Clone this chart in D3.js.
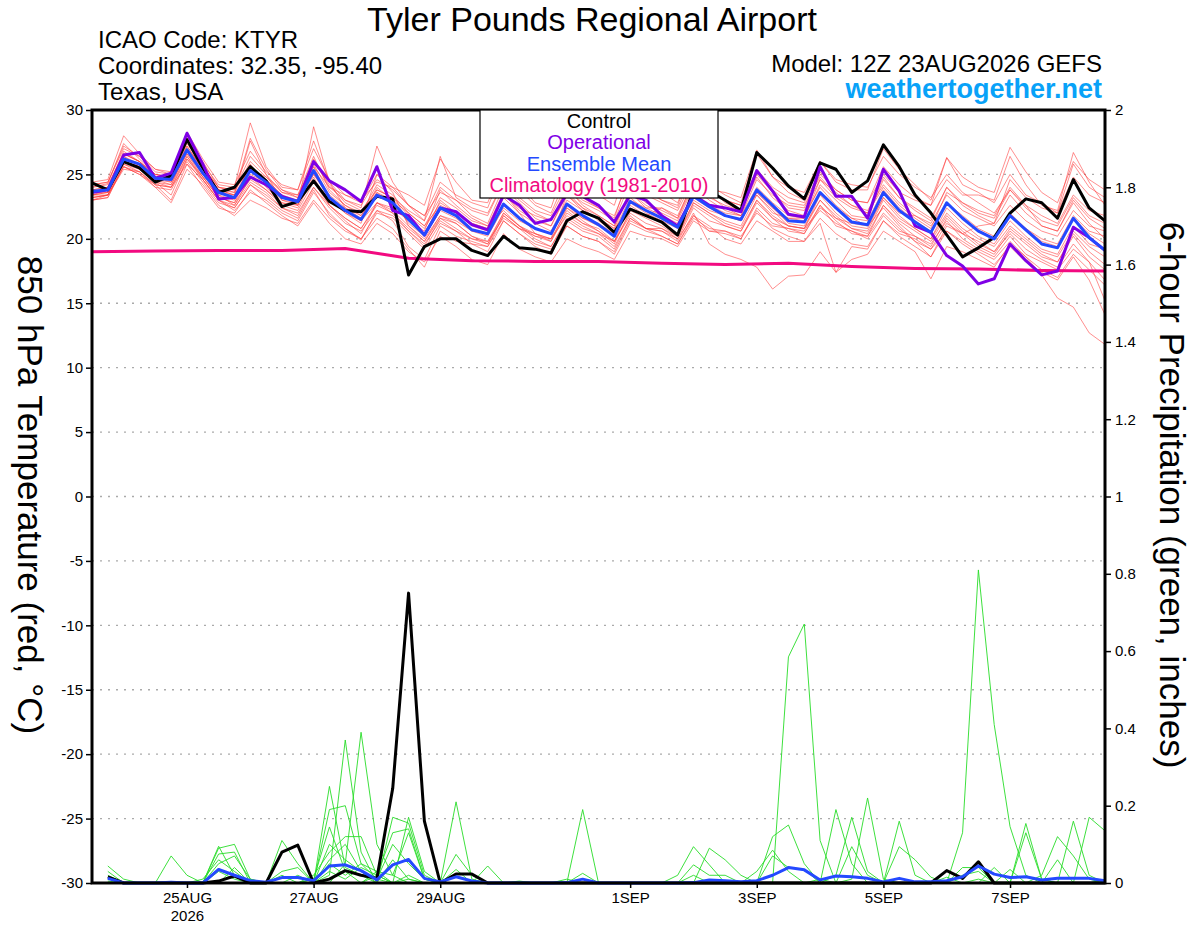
<!DOCTYPE html>
<html>
<head>
<meta charset="utf-8">
<script src="https://cdn.jsdelivr.net/npm/d3@7"></script>
<style>
body { margin: 0; background: #fff; }
svg text { font-family: "Liberation Sans", Arial, sans-serif; }
</style>
</head>
<body>
<svg id="chart" width="1200" height="927"></svg>
<script>
// GEFS run 12Z 23AUG2026, values every 6 hours (65 steps, to 12Z 08SEP)
var runStart = Date.UTC(2026, 7, 23, 12);
var times = d3.range(65).map(function (i) { return new Date(runStart + i * 6 * 3600 * 1000); });

// 850 hPa temperature (C)
var controlT = [
    24.35, 23.8, 26.0, 25.5,  24.4, 24.9, 27.7, 25.5,  23.6, 24.0, 25.6, 24.5,  22.5, 22.9, 24.5, 22.9,
    22.2, 22.1, 23.3, 23.1,  17.2, 19.4, 20.0, 20.0,  19.1, 18.7, 20.2, 19.3,  19.2, 18.9, 21.4, 22.1,
    21.6, 20.5, 22.3, 21.8,  21.3, 20.3, 23.8, 23.7,  23.0, 22.2, 26.7, 25.5,  24.1, 23.1, 25.9, 25.4,
    23.6, 24.5, 27.3, 25.6,  23.4, 22.0, 20.3, 18.6,  19.3, 20.1, 22.0, 23.1,  22.8, 21.6, 24.6, 22.4,
    21.4];
var operT = [
    23.6, 23.8, 26.5, 26.7,  24.7, 25.1, 28.2, 25.8,  23.1, 23.2, 24.8, 24.2,  23.3, 22.9, 26.0, 24.5,
    23.8, 22.9, 25.6, 22.2,  21.8, 20.3, 22.4, 22.1,  21.1, 20.7, 23.4, 22.6,  21.2, 21.5, 23.5, 23.3,
    22.6, 21.3, 23.4, 23.0,  21.8, 21.0, 23.4, 22.6,  22.4, 22.1, 25.3, 23.7,  21.9, 21.7, 25.6, 23.3,
    23.3, 21.6, 25.4, 23.7,  21.0, 20.5, 18.7, 17.9,  16.5, 16.9, 19.6, 18.3,  17.2, 17.5, 20.9, 20.1,
    19.1];
var meanT = [
    23.7, 23.8, 26.2, 25.8,  24.7, 24.6, 26.9, 25.1,  23.6, 23.2, 25.3, 24.4,  23.2, 22.9, 25.3, 23.2,
    22.2, 21.5, 23.4, 22.8,  21.5, 20.3, 22.4, 21.8,  20.7, 20.4, 22.7, 21.6,  20.8, 20.4, 22.7, 21.8,
    21.1, 20.2, 22.9, 22.2,  21.6, 20.9, 23.3, 22.5,  21.8, 21.5, 23.8, 22.6,  21.4, 21.3, 23.6, 22.4,
    21.3, 21.1, 23.6, 22.2,  21.3, 20.5, 22.8, 21.6,  20.6, 20.0, 21.8, 20.7,  19.6, 19.3, 21.6, 20.1,
    19.1];
// climatology, one value per day at 12Z
var climT = [19.0, 19.05, 19.1, 19.1, 19.25, 18.5, 18.3, 18.25, 18.25, 18.1, 18.0, 18.1, 17.85, 17.7, 17.65, 17.55, 17.5];

// ensemble members
var memberT = [
  [24.0, 24.3, 27.4, 26.2,  25.0, 24.8, 27.6, 25.8,  24.2, 24.0, 29.0, 25.6,  24.0, 23.8, 27.0, 24.6,
   23.4, 22.8, 25.0, 24.0,  22.6, 21.8, 24.4, 23.4,  22.8, 22.4, 25.6, 23.8,  22.6, 22.0, 24.8, 23.2,
   22.4, 21.6, 25.2, 24.0,  23.0, 22.6, 25.8, 24.2,  23.4, 22.8, 26.6, 24.8,  23.6, 23.0, 26.0, 24.4,
   23.8, 23.8, 27.0, 25.4,  24.2, 23.0, 26.3, 24.2,  23.6, 22.8, 25.0, 23.4,  22.8, 22.0, 25.8, 24.0, 23.2],
  [23.2, 23.4, 25.4, 25.2,  24.2, 23.0, 25.8, 24.6,  23.0, 22.2, 23.6, 23.0,  22.0, 21.4, 23.6, 22.0,
   20.8, 20.0, 22.0, 21.6,  20.4, 19.2, 21.2, 20.6,  19.6, 19.0, 21.4, 20.4,  19.4, 18.8, 21.0, 20.2,
   19.8, 19.0, 21.4, 20.8,  20.2, 19.6, 21.8, 21.0,  20.0, 19.6, 21.4, 20.6,  19.8, 19.8, 21.6, 20.4,
   19.6, 19.4, 21.4, 20.2,  19.4, 18.6, 20.6, 19.8,  19.0, 18.4, 19.8, 18.6,  17.2, 15.4, 14.7, 12.7, 11.8],
  [23.4, 23.6, 26.0, 25.6,  24.6, 24.4, 26.6, 24.8,  23.4, 22.6, 24.8, 23.8,  22.8, 22.4, 24.8, 22.6,
   21.6, 20.8, 22.6, 22.0,  20.8, 19.8, 21.8, 21.2,  20.2, 19.6, 22.0, 21.0,  20.0, 19.4, 21.6, 20.8,
   20.4, 19.8, 21.8, 20.8,  20.6, 19.8, 22.0, 19.6,  18.8, 18.4, 17.8, 16.1,  17.1, 17.2, 19.0, 17.4,
   18.4, 18.8, 20.6, 19.8,  19.0, 16.9, 19.4, 19.0,  18.4, 17.8, 19.6, 18.6,  17.6, 17.0, 18.8, 17.6, 16.4],
  [23.8, 24.0, 26.8, 26.0,  25.0, 24.8, 27.2, 25.4,  23.8, 23.6, 26.0, 24.8,  23.6, 23.4, 26.4, 23.8,
   22.6, 22.0, 24.2, 23.4,  22.0, 21.0, 23.2, 22.4,  21.4, 21.0, 23.6, 22.2,  21.4, 21.0, 23.4, 22.4,
   21.8, 21.0, 23.8, 22.8,  22.2, 21.6, 24.2, 23.2,  22.6, 22.2, 25.0, 23.6,  22.4, 22.2, 24.6, 23.2,
   22.4, 22.0, 24.8, 23.2,  22.4, 21.6, 24.0, 22.6,  21.8, 21.2, 23.4, 22.0,  21.0, 20.6, 23.0, 21.6, 20.8],
  [23.6, 23.6, 25.8, 25.4,  24.4, 24.2, 26.4, 24.8,  23.2, 22.8, 24.6, 23.8,  22.6, 22.2, 24.4, 22.6,
   21.6, 20.8, 22.8, 22.2,  21.0, 19.8, 21.6, 21.2,  20.2, 19.8, 22.0, 21.0,  20.2, 19.8, 22.0, 21.2,
   20.6, 19.6, 22.2, 21.6,  21.0, 20.2, 22.6, 21.8,  21.0, 20.6, 22.8, 21.6,  20.6, 20.4, 22.6, 21.4,
   20.4, 20.2, 22.6, 21.2,  20.2, 19.4, 21.6, 20.4,  19.4, 18.8, 20.6, 19.6,  18.6, 18.2, 20.4, 19.0, 18.0],
  [23.4, 23.8, 26.4, 25.6,  24.6, 24.6, 27.0, 25.4,  23.6, 23.4, 27.6, 25.0,  23.0, 22.6, 28.7, 24.4,
   22.4, 21.6, 24.0, 23.0,  21.2, 20.2, 23.0, 22.0,  21.0, 20.6, 23.2, 22.0,  21.2, 20.6, 23.0, 22.2,
   21.6, 20.8, 23.6, 22.6,  22.0, 21.4, 24.0, 23.0,  22.2, 21.8, 24.6, 23.4,  22.6, 22.4, 25.0, 23.8,
   23.0, 22.8, 25.6, 24.2,  23.2, 22.6, 26.3, 24.8,  24.0, 23.6, 27.1, 25.2,  23.6, 22.8, 26.0, 24.6, 23.8],
  [23.0, 23.2, 25.6, 25.0,  24.0, 23.8, 26.0, 24.4,  22.8, 22.4, 24.2, 23.2,  22.2, 21.6, 23.8, 21.8,
   20.8, 19.9, 22.2, 21.4,  19.4, 18.4, 21.0, 20.2,  19.8, 19.4, 21.4, 20.4,  19.6, 19.2, 21.0, 20.2,
   19.8, 18.8, 21.2, 20.6,  20.2, 19.6, 21.6, 20.8,  20.6, 20.0, 22.4, 21.2,  20.8, 20.6, 22.6, 21.0,
   20.6, 20.2, 22.0, 20.8,  19.8, 19.2, 20.6, 19.6,  18.8, 18.0, 19.4, 18.2,  17.4, 16.8, 18.6, 16.8, 14.1],
  [24.2, 24.4, 27.0, 26.4,  25.2, 25.0, 28.3, 26.2,  24.4, 24.2, 26.8, 25.2,  24.2, 23.8, 27.6, 24.4,
   23.0, 22.4, 27.2, 24.4,  22.6, 21.4, 24.0, 23.0,  21.8, 21.2, 24.0, 22.8,  21.6, 21.0, 23.6, 22.4,
   21.4, 20.6, 23.2, 22.2,  21.6, 21.0, 23.2, 22.4,  21.8, 21.4, 23.6, 22.4,  21.2, 21.0, 23.0, 21.8,
   20.8, 20.6, 23.0, 21.6,  20.8, 20.0, 22.0, 20.8,  20.0, 19.4, 21.0, 20.0,  19.0, 18.6, 20.6, 19.4, 18.6],
  [23.6, 23.8, 26.0, 25.6,  24.8, 24.4, 26.6, 25.0,  23.6, 23.2, 25.0, 24.4,  23.2, 23.0, 25.0, 23.4,
   22.4, 21.8, 23.6, 23.0,  22.0, 21.0, 22.6, 22.0,  21.2, 20.8, 22.6, 21.6,  20.8, 20.4, 22.4, 21.6,
   21.0, 20.2, 23.0, 22.4,  21.8, 21.2, 23.4, 22.6,  22.0, 21.8, 24.0, 22.8,  21.8, 21.6, 24.2, 23.0,
   21.8, 21.6, 24.6, 23.2,  22.2, 21.4, 24.0, 22.8,  22.0, 21.6, 23.8, 22.4,  21.4, 21.0, 23.2, 21.8, 21.2],
  [23.0, 23.4, 25.6, 25.2,  24.0, 22.8, 25.4, 24.2,  22.6, 21.8, 23.0, 22.4,  21.6, 21.2, 23.0, 21.6,
   20.6, 20.0, 21.6, 20.8,  19.2, 17.8, 20.6, 19.8,  19.6, 19.4, 21.8, 20.8,  20.2, 20.0, 22.2, 21.2,
   20.8, 19.8, 22.6, 21.8,  21.2, 20.4, 22.8, 22.0,  21.4, 21.0, 23.4, 22.2,  21.0, 20.8, 23.4, 22.0,
   21.0, 20.8, 23.2, 21.8,  20.8, 20.0, 22.4, 21.2,  20.2, 19.6, 21.4, 20.2,  19.2, 18.8, 21.0, 19.6, 19.2],
  [24.4, 24.6, 28.0, 26.6,  25.4, 25.2, 27.8, 26.0,  24.0, 23.6, 27.8, 25.4,  23.8, 23.2, 26.0, 24.2,
   22.8, 22.2, 23.8, 23.2,  22.2, 21.4, 26.4, 23.2,  22.4, 22.0, 24.4, 23.0,  22.0, 21.4, 24.0, 22.6,
   21.8, 21.0, 23.6, 22.4,  22.4, 21.8, 24.4, 23.6,  23.0, 22.6, 25.2, 23.8,  22.8, 22.6, 24.8, 23.4,
   22.6, 22.2, 24.2, 22.8,  21.8, 21.0, 22.8, 21.8,  20.8, 20.2, 21.8, 20.8,  20.0, 19.6, 21.8, 20.6, 20.2],
  [23.2, 23.4, 26.4, 25.8,  24.4, 23.4, 26.2, 24.6,  23.0, 22.6, 24.4, 23.6,  22.4, 22.0, 24.0, 22.4,
   21.2, 20.6, 22.2, 21.8,  20.6, 19.6, 21.4, 20.6,  20.0, 19.8, 21.6, 20.8,  20.4, 20.0, 21.8, 21.0,
   20.4, 19.4, 21.6, 20.8,  20.6, 20.0, 21.8, 20.6,  20.4, 20.0, 22.2, 20.8,  20.2, 19.8, 21.2, 17.4,
   19.4, 19.2, 21.4, 20.4,  20.0, 19.2, 21.2, 20.4,  19.8, 19.0, 20.8, 19.8,  18.8, 18.2, 20.2, 18.6, 17.6],
  [23.8, 24.0, 26.6, 26.0,  24.8, 24.6, 27.2, 25.4,  23.8, 23.4, 25.6, 24.6,  23.4, 23.0, 25.8, 23.6,
   22.6, 21.8, 23.8, 23.2,  21.8, 20.8, 22.8, 22.0,  21.2, 20.8, 23.4, 22.4,  21.8, 21.4, 23.8, 22.8,
   22.2, 21.4, 24.4, 23.4,  22.8, 22.2, 24.6, 23.6,  23.0, 22.6, 25.4, 24.0,  23.2, 22.8, 25.2, 23.8,
   23.0, 22.8, 25.0, 23.6,  23.0, 22.6, 24.6, 23.4,  23.4, 23.0, 26.4, 24.2,  22.6, 22.2, 26.7, 24.4, 22.6],
  [23.4, 23.6, 26.2, 25.8,  24.6, 24.2, 26.8, 25.0,  23.4, 23.0, 25.8, 24.2,  23.0, 22.8, 25.2, 23.0,
   22.0, 21.2, 25.0, 23.6,  21.0, 20.0, 21.8, 21.4,  20.6, 20.2, 22.4, 21.4,  20.8, 20.4, 22.6, 21.6,
   21.2, 20.4, 22.8, 22.0,  21.4, 20.8, 23.0, 22.2,  21.8, 21.4, 23.6, 22.4,  21.6, 21.4, 23.6, 22.4,
   21.6, 21.4, 23.8, 22.4,  21.4, 20.6, 22.8, 21.6,  20.6, 20.0, 22.0, 20.8,  19.8, 19.4, 21.6, 20.4, 19.6],
  [24.0, 24.2, 26.6, 26.0,  25.0, 24.8, 27.4, 25.6,  24.0, 23.8, 26.4, 25.0,  23.6, 23.2, 26.2, 24.0,
   23.0, 22.6, 24.6, 23.8,  22.6, 21.8, 23.6, 23.0,  22.2, 21.8, 24.4, 23.2,  22.2, 21.8, 24.2, 23.0,
   22.4, 21.8, 24.8, 23.6,  23.0, 22.4, 25.2, 23.8,  23.6, 23.2, 26.9, 24.8,  24.0, 23.6, 26.0, 24.6,
   24.2, 24.0, 26.4, 25.0,  24.0, 23.2, 25.0, 23.6,  22.8, 22.0, 23.8, 22.6,  21.8, 21.2, 23.4, 22.2, 21.8],
  [23.0, 23.2, 25.8, 25.2,  24.2, 24.0, 26.4, 24.6,  23.0, 22.4, 24.2, 23.4,  22.4, 21.8, 24.0, 22.6,
   21.4, 20.4, 22.8, 22.0,  20.6, 19.4, 21.6, 20.8,  20.0, 19.6, 21.8, 20.8,  19.8, 19.4, 21.4, 20.6,
   20.2, 19.2, 21.6, 20.8,  20.8, 20.0, 22.4, 21.4,  21.0, 20.6, 23.0, 21.6,  21.0, 20.8, 23.0, 21.6,
   20.8, 20.4, 22.6, 21.4,  20.6, 19.8, 21.8, 20.6,  19.6, 19.0, 20.4, 19.2,  18.4, 17.8, 19.6, 18.2, 16.8],
  [24.2, 24.4, 27.2, 26.4,  25.4, 25.0, 27.0, 25.6,  24.0, 23.8, 25.4, 24.8,  23.8, 23.4, 25.6, 24.0,
   23.4, 23.0, 24.4, 24.0,  23.4, 22.6, 26.2, 24.4,  23.0, 22.8, 25.8, 24.2,  22.8, 22.4, 26.0, 24.4,
   23.4, 22.6, 26.4, 24.6,  23.6, 22.8, 25.6, 24.0,  22.8, 22.2, 24.8, 23.2,  22.2, 21.8, 24.0, 22.6,
   21.6, 21.0, 22.4, 21.0,  19.8, 18.6, 21.0, 20.4,  21.0, 21.2, 24.6, 23.2,  22.4, 22.0, 24.8, 23.4, 22.8],
  [23.2, 23.4, 25.6, 25.0,  24.2, 24.0, 25.8, 24.0,  22.4, 22.0, 23.8, 22.8,  21.8, 21.0, 22.8, 21.2,
   20.0, 19.6, 21.2, 20.4,  19.0, 18.2, 20.2, 19.4,  18.4, 18.0, 20.4, 19.2,  18.6, 18.2, 20.0, 19.4,
   19.0, 18.4, 20.6, 20.2,  20.0, 19.4, 21.4, 20.6,  20.6, 20.2, 22.0, 21.0,  20.8, 20.4, 22.4, 21.6,
   21.2, 21.0, 23.2, 22.0,  21.8, 21.2, 23.4, 22.2,  21.6, 21.0, 22.6, 21.4,  20.6, 20.2, 22.2, 21.0, 20.6],
  [23.6, 24.0, 26.6, 26.0,  24.8, 24.6, 28.0, 25.6,  23.8, 23.4, 25.2, 24.6,  23.4, 22.6, 25.0, 23.2,
   22.0, 21.4, 22.8, 22.4,  21.4, 20.6, 23.8, 22.6,  21.6, 21.0, 22.2, 21.0,  20.4, 20.0, 23.4, 22.2,
   21.6, 20.8, 22.4, 21.8,  22.4, 21.6, 24.6, 23.4,  22.4, 21.8, 23.4, 22.0,  21.6, 21.6, 24.6, 23.6,
   22.6, 22.0, 24.0, 22.6,  21.6, 20.8, 23.6, 22.8,  22.2, 21.8, 24.0, 22.6,  21.0, 20.6, 22.8, 21.2, 20.0],
  [23.4, 23.4, 26.0, 25.4,  24.4, 24.0, 26.2, 24.8,  23.2, 22.8, 25.4, 24.0,  22.8, 22.6, 25.6, 23.2,
   22.2, 21.4, 23.6, 22.6,  21.4, 20.2, 22.2, 21.6,  20.6, 20.4, 23.6, 22.0,  20.4, 19.8, 22.4, 21.4,
   20.6, 19.8, 22.0, 21.2,  20.8, 20.2, 22.8, 22.0,  21.2, 20.8, 23.0, 21.8,  21.0, 20.8, 22.2, 21.2,
   20.6, 20.0, 21.8, 20.6,  20.2, 19.6, 21.4, 20.0,  19.2, 18.6, 20.2, 18.8,  18.2, 17.6, 19.2, 18.2, 15.2]
];

// 6-hour precipitation (inches), first step has no value
var controlP = [
    null, 0.016, 0, 0,  0, 0, 0, 0,  0.005, 0.018, 0, 0,  0.08, 0.098, 0, 0.01,
    0.032, 0.02, 0.012, 0.245,  0.75, 0.16, 0, 0.023,  0.023, 0, 0, 0,  0, 0, 0, 0,
    0, 0, 0, 0,  0, 0, 0, 0,  0, 0, 0, 0,  0, 0, 0, 0,
    0, 0, 0, 0,  0, 0, 0.032, 0.012,  0.055, 0, 0, 0,  0, 0, 0, 0,  0];
var meanP = [
    null, 0.012, 0, 0,  0, 0.002, 0, 0,  0.035, 0.02, 0.006, 0.002,  0.014, 0.014, 0.006, 0.044,
    0.047, 0.032, 0.008, 0.047,  0.061, 0.012, 0.003, 0.016,  0.005, 0, 0, 0,  0, 0, 0.001, 0.01,
    0, 0, 0, 0,  0, 0, 0.001, 0.008,  0.006, 0.003, 0.006, 0.02,  0.04, 0.034, 0.008, 0.018,
    0.016, 0.012, 0.003, 0.012,  0.003, 0.003, 0.006, 0.016,  0.044, 0.023, 0.014, 0.016,  0.008, 0.012, 0.012, 0.012,  0.006];
var memberP = [
  [null, 0.044, 0.01, 0,  0, 0, 0, 0,  0.095, 0.02, 0, 0,  0.03, 0.04, 0, 0.25,  0.04, 0.02, 0, 0.06,
   0.01, 0, 0, 0,  0, 0, 0, 0,  0, 0, 0, 0.025,  0, 0, 0, 0,  0, 0, 0, 0,  0, 0, 0, 0,  0, 0, 0, 0.02,
   0.17, 0.03, 0, 0,  0, 0, 0, 0,  0.01, 0, 0, 0,  0.02, 0.12, 0.07, 0.01,  0],
  [null, 0.03, 0, 0,  0, 0, 0, 0,  0.09, 0.1, 0.01, 0,  0, 0.02, 0, 0.03,  0.01, 0.04, 0.02, 0,
   0.17, 0.03, 0, 0,  0, 0, 0, 0,  0, 0, 0, 0,  0, 0, 0, 0,  0, 0, 0, 0,  0, 0, 0, 0,  0, 0, 0, 0,
   0.01, 0.22, 0.01, 0,  0, 0, 0, 0,  0, 0, 0, 0,  0, 0, 0, 0,  0.01],
  [null, 0.02, 0, 0,  0, 0, 0, 0,  0.075, 0.08, 0, 0,  0, 0, 0.01, 0.145,  0.03, 0, 0.03, 0,
   0, 0, 0, 0.035,  0, 0, 0, 0.005,  0, 0, 0, 0,  0, 0, 0, 0,  0, 0, 0, 0,  0, 0, 0, 0,  0, 0, 0, 0,
   0, 0, 0, 0.16,  0.02, 0, 0, 0,  0, 0, 0, 0,  0, 0, 0.16, 0.02,  0],
  [null, 0.005, 0, 0,  0, 0.07, 0.02, 0,  0, 0, 0, 0,  0, 0, 0, 0.19,  0.2, 0.05, 0.01, 0,
   0, 0, 0, 0,  0, 0, 0, 0,  0, 0, 0, 0,  0, 0, 0, 0,  0, 0, 0.02, 0,  0, 0, 0.03, 0.085,  0.03, 0, 0, 0,
   0, 0, 0, 0,  0, 0, 0, 0,  0, 0, 0, 0.154,  0.01, 0, 0, 0,  0],
  [null, 0, 0, 0,  0, 0, 0, 0.01,  0.06, 0.03, 0, 0,  0, 0, 0, 0.1,  0.06, 0.03, 0.01, 0.1,
   0.05, 0.01, 0, 0,  0, 0, 0, 0,  0, 0, 0.01, 0,  0, 0, 0, 0,  0, 0, 0, 0,  0, 0, 0, 0,  0, 0, 0, 0,
   0, 0, 0, 0.094,  0.06, 0.015, 0, 0,  0, 0, 0, 0,  0, 0, 0, 0,  0],
  [null, 0, 0, 0,  0, 0, 0, 0,  0.05, 0.07, 0.01, 0,  0, 0, 0.02, 0.08,  0.12, 0.12, 0.02, 0,
   0.01, 0, 0, 0,  0, 0, 0, 0,  0, 0, 0, 0,  0, 0, 0, 0,  0, 0.02, 0.094, 0.047,  0, 0, 0, 0,  0, 0, 0, 0,
   0, 0, 0, 0,  0, 0, 0.015, 0,  0, 0, 0, 0,  0, 0, 0, 0.17,  0.135],
  [null, 0, 0, 0,  0, 0, 0, 0,  0.03, 0.01, 0, 0,  0, 0, 0, 0.06,  0.1, 0.03, 0, 0,
   0, 0, 0, 0,  0, 0.044, 0, 0,  0, 0, 0, 0,  0, 0, 0, 0,  0, 0, 0, 0.09,  0.06, 0.02, 0, 0,  0, 0, 0, 0,
   0, 0, 0, 0,  0, 0, 0, 0.04,  0.04, 0, 0, 0,  0, 0, 0, 0,  0],
  [null, 0, 0, 0,  0, 0, 0, 0,  0, 0.04, 0, 0,  0, 0, 0, 0.05,  0.02, 0.05, 0.03, 0.02,
   0.13, 0.01, 0, 0,  0, 0, 0, 0,  0, 0, 0, 0,  0, 0, 0, 0,  0, 0, 0.047, 0.02,  0.02, 0, 0, 0,  0, 0, 0, 0,
   0, 0, 0, 0,  0, 0, 0, 0,  0, 0, 0.035, 0,  0, 0, 0, 0,  0],
  [null, 0, 0, 0,  0, 0, 0, 0,  0, 0, 0, 0,  0.11, 0.05, 0, 0,  0, 0, 0, 0,
   0, 0, 0, 0.074,  0.02, 0, 0, 0,  0, 0, 0, 0,  0, 0, 0, 0,  0, 0, 0, 0,  0, 0, 0, 0.12,  0.15, 0.05, 0, 0,
   0, 0, 0, 0,  0, 0, 0, 0,  0, 0, 0, 0,  0, 0.06, 0, 0,  0],
  [null, 0, 0, 0,  0, 0, 0, 0,  0, 0, 0, 0,  0.02, 0, 0, 0.02,  0.37, 0.08, 0, 0,
   0.02, 0, 0, 0,  0, 0, 0, 0,  0, 0, 0, 0,  0, 0, 0, 0,  0, 0, 0, 0,  0, 0, 0, 0.07,  0.04, 0.035, 0, 0,
   0, 0, 0, 0,  0, 0, 0, 0,  0, 0, 0, 0.13,  0.01, 0, 0, 0,  0],
  [null, 0, 0, 0,  0, 0, 0, 0,  0, 0, 0, 0,  0, 0, 0.01, 0,  0.05, 0.39, 0.1, 0.02,
   0, 0, 0, 0,  0, 0, 0, 0,  0, 0, 0, 0,  0, 0, 0, 0,  0, 0, 0, 0,  0, 0, 0, 0,  0, 0, 0.01, 0,
   0, 0, 0, 0,  0, 0, 0, 0.13,  0.81, 0.41, 0.146, 0.02,  0, 0, 0, 0,  0],
  [null, 0, 0, 0,  0, 0, 0, 0,  0, 0, 0, 0,  0, 0, 0, 0,  0, 0, 0, 0.17,
   0.155, 0.02, 0, 0,  0, 0, 0, 0,  0, 0, 0, 0,  0, 0, 0, 0,  0, 0, 0, 0,  0, 0, 0, 0,  0, 0, 0, 0.19,
   0.05, 0, 0, 0,  0, 0, 0, 0.02,  0.03, 0, 0, 0,  0, 0, 0, 0,  0],
  [null, 0, 0, 0,  0, 0, 0, 0,  0, 0, 0, 0,  0, 0, 0, 0,  0, 0, 0.02, 0.13,
   0.14, 0.01, 0, 0,  0, 0, 0, 0,  0, 0, 0, 0.19,  0, 0, 0, 0,  0, 0, 0, 0,  0, 0, 0, 0,  0, 0, 0, 0,
   0.094, 0.02, 0, 0,  0, 0, 0, 0,  0, 0.04, 0, 0,  0, 0, 0, 0,  0],
  [null, 0, 0, 0,  0, 0, 0, 0,  0, 0, 0, 0,  0, 0, 0, 0,  0, 0, 0, 0,
   0, 0, 0, 0.21,  0.01, 0, 0, 0,  0, 0, 0, 0,  0, 0, 0, 0,  0, 0, 0, 0,  0, 0, 0, 0,  0.585, 0.67, 0.11, 0,
   0, 0, 0, 0,  0, 0, 0, 0,  0, 0, 0, 0,  0, 0, 0, 0,  0]
];

// axis ticks
var tempTicks = [-30, -25, -20, -15, -10, -5, 0, 5, 10, 15, 20, 25, 30];
var precipTicks = [0, 0.2, 0.4, 0.6, 0.8, 1, 1.2, 1.4, 1.6, 1.8, 2];
var dayTicks = [Date.UTC(2026, 7, 25), Date.UTC(2026, 7, 27), Date.UTC(2026, 7, 29), Date.UTC(2026, 8, 1),
    Date.UTC(2026, 8, 3), Date.UTC(2026, 8, 5), Date.UTC(2026, 8, 7)];
var dayLabels = ["25AUG", "27AUG", "29AUG", "1SEP", "3SEP", "5SEP", "7SEP"];

var svg = d3.select("#chart");
// plot box (window.top is read only, so no "top" here)
var pLeft = 92, pRight = 1105, pTop = 110, pBottom = 883;

var x = d3.scaleUtc().domain([times[0], times[times.length - 1]]).range([pLeft, pRight]);
var yT = d3.scaleLinear().domain([-30, 30]).range([pBottom, pTop]);
var yP = d3.scaleLinear().domain([0, 2]).range([pBottom, pTop]);

svg.append("rect").attr("width", 1200).attr("height", 927).style("fill", "#fff");

// dotted grid at the temperature ticks
svg.append("g").selectAll("line")
    .data(tempTicks.filter(function (d) { return d > -30 && d < 30; }))
    .enter().append("line")
    .attr("x1", pLeft).attr("x2", pRight)
    .attr("y1", function (d) { return yT(d); })
    .attr("y2", function (d) { return yT(d); })
    .style("stroke", "#aaa")
    .style("stroke-width", 1.3)
    .style("stroke-dasharray", "2,6");

var tLine = d3.line()
    .defined(function (d) { return d != null; })
    .x(function (d, i) { return x(times[i]); })
    .y(function (d) { return yT(d); });

var pLine = d3.line()
    .defined(function (d) { return d != null; })
    .x(function (d, i) { return x(times[i]); })
    .y(function (d) { return yP(d); });

var climLine = d3.line()
    .x(function (d, i) { return x(new Date(runStart + i * 24 * 3600 * 1000)); })
    .y(function (d) { return yT(d); });

var plot = svg.append("g").attr("fill", "none");

// members first
plot.selectAll(".mt").data(memberT).enter().append("path")
    .attr("class", "mt")
    .attr("d", tLine)
    .style("stroke", "#ff3b3b")
    .style("stroke-opacity", 0.72)
    .style("stroke-width", 0.8);

plot.selectAll(".mp").data(memberP).enter().append("path")
    .attr("class", "mp")
    .attr("d", pLine)
    .style("stroke", "#28dc28")
    .style("stroke-width", 0.9);

plot.append("path").attr("d", climLine(climT))
    .style("stroke", "#f20a80").style("stroke-width", 3);

plot.append("path").attr("d", tLine(controlT))
    .style("stroke", "#000").style("stroke-width", 3).style("stroke-linejoin", "round");
plot.append("path").attr("d", tLine(operT))
    .style("stroke", "#7f00e6").style("stroke-width", 3).style("stroke-linejoin", "round");
plot.append("path").attr("d", tLine(meanT))
    .style("stroke", "#2449ff").style("stroke-width", 3).style("stroke-linejoin", "round");

plot.append("path").attr("d", pLine(controlP))
    .style("stroke", "#000").style("stroke-width", 3).style("stroke-linejoin", "round");
plot.append("path").attr("d", pLine(meanP))
    .style("stroke", "#2449ff").style("stroke-width", 3).style("stroke-linejoin", "round");

// axes
var yAxisL = d3.axisLeft(yT).tickValues(tempTicks).tickSize(6).tickPadding(3)
    .tickFormat(function (d) { return String(d); });
var gL = svg.append("g").attr("transform", "translate(" + pLeft + ",0)").call(yAxisL);

var yAxisR = d3.axisRight(yP).tickValues(precipTicks).tickSize(6).tickPadding(4)
    .tickFormat(function (d) { return String(d); });
var gR = svg.append("g").attr("transform", "translate(" + pRight + ",0)").call(yAxisR);

var xAxis = d3.axisBottom(x).tickValues(dayTicks.map(function (d) { return new Date(d); }))
    .tickSize(5).tickPadding(4)
    .tickFormat(function (d, i) { return dayLabels[i]; });
var gX = svg.append("g").attr("transform", "translate(0," + pBottom + ")").call(xAxis);

[gL, gR, gX].forEach(function (g) {
    g.select(".domain").remove();
    g.selectAll(".tick line").style("stroke", "#000").style("stroke-width", 1.5);
    g.selectAll(".tick text").style("font-size", "15px").style("fill", "#000")
        .style("font-family", "'Liberation Sans', Arial, sans-serif");
});

// year under the first date
gX.select(".tick text").append("tspan")
    .attr("x", 0).attr("dy", "1.2em").text("2026");

// plot frame
svg.append("rect")
    .attr("x", pLeft).attr("y", pTop)
    .attr("width", pRight - pLeft).attr("height", pBottom - pTop)
    .style("fill", "none").style("stroke", "#000").style("stroke-width", 3);

// legend box
var legend = svg.append("g");
legend.append("rect")
    .attr("x", 480).attr("y", pTop).attr("width", 238).attr("height", 88)
    .style("fill", "#fff").style("stroke", "#000").style("stroke-width", 1.2);
var legendItems = ["Control", "Operational", "Ensemble Mean", "Climatology (1981-2010)"];
var legendColors = ["#000", "#7f00e6", "#2449ff", "#f20a80"];
legend.selectAll("text").data(legendItems).enter().append("text")
    .attr("x", 599)
    .attr("y", function (d, i) { return 128 + i * 21.3; })
    .attr("text-anchor", "middle")
    .style("font-size", "20px")
    .style("fill", function (d, i) { return legendColors[i]; })
    .text(function (d) { return d; });

// titles
svg.append("text").attr("x", 592).attr("y", 31).attr("text-anchor", "middle")
    .style("font-size", "34px").text("Tyler Pounds Regional Airport");

var info = ["ICAO Code: KTYR", "Coordinates: 32.35, -95.40", "Texas, USA"];
svg.selectAll(".info").data(info).enter().append("text")
    .attr("class", "info")
    .attr("x", 98)
    .attr("y", function (d, i) { return 48 + i * 26; })
    .style("font-size", "24px")
    .text(function (d) { return d; });

svg.append("text").attr("x", 1102).attr("y", 72).attr("text-anchor", "end")
    .style("font-size", "24px").text("Model: 12Z 23AUG2026 GEFS");
svg.append("text").attr("x", 1102).attr("y", 98).attr("text-anchor", "end")
    .style("font-size", "27px").style("font-weight", "bold").style("fill", "#08a2f8")
    .text("weathertogether.net");

// axis titles, read top to bottom
svg.append("text").attr("transform", "translate(18,495) rotate(90)")
    .attr("text-anchor", "middle").style("font-size", "35px")
    .text("850 hPa Temperature (red, °C)");
svg.append("text").attr("transform", "translate(1160,495) rotate(90)")
    .attr("text-anchor", "middle").style("font-size", "35px")
    .text("6-hour Precipitation (green, inches)");
</script>
</body>
</html>
